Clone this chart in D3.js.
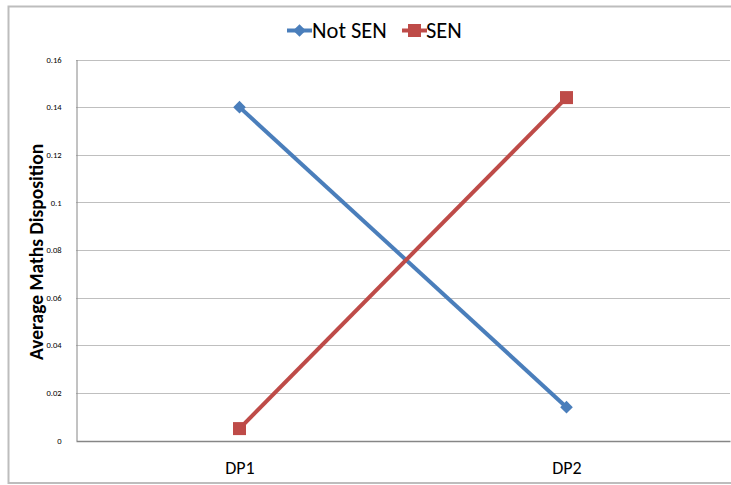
<!DOCTYPE html>
<html><head><meta charset="utf-8">
<script src="https://cdn.jsdelivr.net/npm/d3@7"></script>
<style>body{margin:0;background:#fff}svg{display:block}</style>
</head><body><svg id="c" width="731" height="485"></svg>
<script>
const categories = ["DP1", "DP2"];
const seriesNames = ["Not SEN", "SEN"];
const notSEN = [0.14, 0.014];
const sen = [0.005, 0.144];
const yTicks = [0, 0.02, 0.04, 0.06, 0.08, 0.1, 0.12, 0.14, 0.16];
const yTickLabels = ["0", "0.02", "0.04", "0.06", "0.08", "0.1", "0.12", "0.14", "0.16"];
const colors = ["#4A7EBB", "#BE4B48"];

const svg = d3.select("#c");
const font = "Calibri, Carlito, 'Liberation Sans', Arial, sans-serif";
// outer border
svg.append("rect").attr("x", 8.5).attr("y", 6.5).attr("width", 740).attr("height", 476.5)
  .attr("fill", "none").attr("stroke", "#bdbdbd").attr("stroke-width", 2);

const L = 76, R = 730, T = 59.5, B = 440.5;
const x = d3.scalePoint().domain(categories).range([L, R]).padding(0.5);
const y = d3.scaleLinear().domain([0, 0.16]).range([B, T]);

// gridlines
svg.append("g").selectAll("line").data(yTicks.filter(d => d > 0)).join("line")
  .attr("x1", L).attr("x2", R).attr("y1", d => Math.round(y(d)) + 0.5).attr("y2", d => Math.round(y(d)) + 0.5)
  .attr("stroke", "#bfbfbf").attr("stroke-width", 1);

// y axis
const yAxis = d3.axisLeft(y).tickValues(yTicks).tickFormat((d, i) => yTickLabels[i]).tickSize(0).tickPadding(15);
const gy = svg.append("g").attr("transform", `translate(${L + 0.5},0)`).call(yAxis);
gy.select(".domain").attr("stroke", "#868686");
gy.selectAll("text").attr("font-family", font).attr("font-size", 8.5).attr("fill", "#000");

// x axis
const xAxis = d3.axisBottom(x).tickSize(0).tickPadding(20);
const gx = svg.append("g").attr("transform", `translate(0,${B + 0.5})`).call(xAxis);
gx.select(".domain").attr("stroke", "#868686").attr("stroke-width", 1.3);
gx.selectAll("text").attr("font-family", font).attr("font-size", 18).attr("fill", "#000");

// y title
svg.append("text").attr("transform", `translate(43,${(T + B) / 2 + 2}) rotate(-90)`)
  .attr("text-anchor", "middle").attr("font-family", font).attr("font-weight", "bold")
  .attr("font-size", 19.5).text("Average Maths Disposition");

const data = [notSEN, sen];
const line = d3.line().x((d, i) => x(categories[i])).y(d => y(d));
data.forEach((vals, si) => {
  svg.append("path").attr("d", line(vals)).attr("fill", "none")
    .attr("stroke", colors[si]).attr("stroke-width", 4);
});
function marker(g, si, cx, cy) {
  if (si === 0) {
    g.append("path").attr("d", d3.symbol(d3.symbolSquare, 80)())
      .attr("transform", `translate(${cx},${cy}) rotate(45)`).attr("fill", colors[0]);
  } else {
    g.append("rect").attr("x", cx - 6.5).attr("y", cy - 6.5).attr("width", 13).attr("height", 13).attr("fill", colors[1]);
  }
}
data.forEach((vals, si) => {
  const g = svg.append("g");
  vals.forEach((v, i) => marker(g, si, x(categories[i]), y(v)));
});

// legend
const legendItems = [{x0: 287, tx: 312}, {x0: 402, tx: 426}];
legendItems.forEach((it, si) => {
  const g = svg.append("g");
  g.append("line").attr("x1", it.x0).attr("x2", it.x0 + 25).attr("y1", 30.5).attr("y2", 30.5)
    .attr("stroke", colors[si]).attr("stroke-width", 4);
  marker(g, si, it.x0 + 12.5, 30.5);
  g.append("text").attr("x", it.tx).attr("y", 37.5).attr("font-family", font)
    .attr("font-size", 22.5).text(seriesNames[si]);
});
</script></body></html>
